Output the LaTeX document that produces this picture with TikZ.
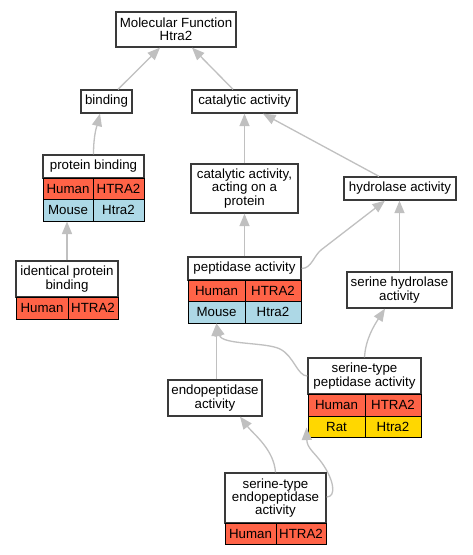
\documentclass[tikz,border=0pt]{standalone}
\usepackage{fontspec}
\setmainfont{Liberation Sans}
\usetikzlibrary{arrows.meta}
\definecolor{hred}{HTML}{FF6347}
\definecolor{mblue}{HTML}{ADD8E6}
\definecolor{rgold}{HTML}{FFD700}
\definecolor{edgec}{HTML}{C0C0C0}
\definecolor{boxc}{HTML}{3A3A3A}
\tikzset{
  box/.style={draw=boxc, line width=1.3pt, fill=white, inner sep=0pt, align=center,
    font=\fontsize{13.3}{13.3}\selectfont},
  cell/.style={draw=black, line width=1pt, inner sep=0pt,
    font=\fontsize{13.3}{13.3}\selectfont},
  edge/.style={draw=edgec, line width=1.3pt, -{Triangle[length=12.5pt,width=10pt]}},
}
\newcommand\gnode[6]{%
  \node[box, minimum width={(#4-#2)*1pt}, minimum height={(#5-#3)*1pt}] (#1) at ({(#2+#4)/2},{(#3+#5)/2}) {#6};}
\newcommand\gcell[7]{%
  \node[cell, fill=#6, minimum width={(#4-#2)*1pt}, minimum height={(#5-#3)*1pt}] (#1) at ({(#2+#4)/2},{(#3+#5)/2}) {#7};}
\begin{document}
\begin{tikzpicture}[x=1pt,y=-1pt]
\useasboundingbox (0,0) rectangle (472,555);
\fill[white] (0,0) rectangle (472,555);

\gnode{mf}{116}{12}{236}{47}{Molecular Function\\Htra2}
\gnode{bind}{81}{90}{132}{113}{binding}
\gnode{cat}{192}{90}{297}{113}{catalytic activity}
\gnode{pbt}{43}{155}{144}{178}{protein binding}
\gcell{pbh1}{43}{178}{93}{199}{hred}{Human}
\gcell{pbh2}{93}{178}{144}{199}{hred}{HTRA2}
\gcell{pbm1}{43}{199}{93}{221}{mblue}{Mouse}
\gcell{pbm2}{93}{199}{144}{221}{mblue}{Htra2}
\gnode{catp}{191}{164}{298}{213}{catalytic activity,\\acting on a\\protein}
\gnode{hyd}{344}{177}{456}{200}{hydrolase activity}
\gnode{ipb}{16}{261}{118}{297}{identical protein\\binding}
\gcell{ipbh1}{16}{297}{68}{319}{hred}{Human}
\gcell{ipbh2}{68}{297}{118}{319}{hred}{HTRA2}
\gnode{pept}{188}{257}{301}{280}{peptidase activity}
\gcell{peph1}{188}{280}{245}{301}{hred}{Human}
\gcell{peph2}{245}{280}{301}{301}{hred}{HTRA2}
\gcell{pepm1}{188}{301}{245}{323}{mblue}{Mouse}
\gcell{pepm2}{245}{301}{301}{323}{mblue}{Htra2}
\gnode{shyd}{347}{272}{452}{308}{serine hydrolase\\activity}
\gnode{stpt}{308}{358}{421}{394}{serine-type\\peptidase activity}
\gcell{stph1}{308}{394}{365}{416}{hred}{Human}
\gcell{stph2}{365}{394}{421}{416}{hred}{HTRA2}
\gcell{stpr1}{308}{416}{365}{437}{rgold}{Rat}
\gcell{stpr2}{365}{416}{421}{437}{rgold}{Htra2}
\gnode{endo}{168}{380}{262}{416}{endopeptidase\\activity}
\gnode{stet}{225}{473}{326}{523}{serine-type\\endopeptidase\\activity}
\gcell{steh1}{225}{523}{276}{544}{hred}{Human}
\gcell{steh2}{276}{523}{326}{544}{hred}{HTRA2}

% edges
\draw[edge] ([xshift=11.5pt]bind.north) -- ([xshift=-16pt]mf.south);
\draw[edge] ([xshift=-11.5pt]cat.north) -- ([xshift=16pt]mf.south);
\draw[edge] (pbt.north) .. controls +(0,-20) and +(-3,12) .. ([xshift=-6.5pt]bind.south);
\draw[edge] (ipb.north) -- (ipb.north |- pbm1.south);
\draw[edge] (catp.north) -- (cat.south);
\draw[edge] ([xshift=-21pt]hyd.north) -- ([xshift=18.5pt]cat.south);
\draw[edge] (pept.north) -- (catp.south);
\draw[edge] (pept.east) .. controls +(10,0) and +(-8,6) .. ++(20,-19) -- ([xshift=-15pt]hyd.south);
\draw[edge] (shyd.north) -- (shyd.north |- hyd.south);
\draw[edge] ([xshift=1.5pt]endo.north) -- (pepm1.south);
\draw[edge] (stpt.west) .. controls +(-10,0) and +(14,7) .. (280,349)
   .. controls (266,342) and (222,345) .. (pepm1.south);
\draw[edge] (stpt.north) .. controls +(1,-18) and +(-11,17) .. ([xshift=-14.5pt]shyd.south);
\draw[edge] (stet.north) .. controls +(-1.5,-23) and +(13,17) .. ([xshift=25pt]endo.south);
\draw[edge] ([yshift=1pt]stet.east) .. controls +(10,0) and +(12,17) .. (322,463)
   .. controls (314,452) and (307,448) .. ([xshift=-1pt,yshift=10pt]stpr1.south west);
\end{tikzpicture}
\end{document}
